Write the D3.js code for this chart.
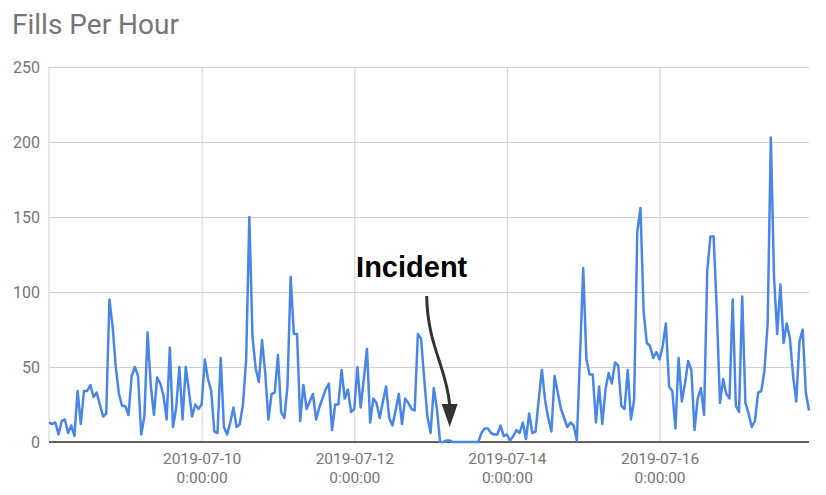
<!DOCTYPE html>
<html>
<head>
<meta charset="utf-8">
<script src="https://cdn.jsdelivr.net/npm/d3@7"></script>
<style>
  body { margin: 0; background: #fff; }
  svg text { font-family: Roboto, Arial, sans-serif; }
</style>
</head>
<body>
<div id="chart"></div>
<script>
// データ (1時間ごと, 2019-07-08 0:00 から)
const startDate = new Date(2019, 6, 8, 0, 0, 0);
const fills = [
  13, 12, 13, 5, 14, 15, 6, 11, 4, 34, 12, 34, 34, 38, 30, 33, 25, 17, 19, 95,
  77, 50, 32, 24, 24, 18, 44, 50, 44, 5, 17, 73, 38, 18, 43, 39, 31, 15, 63, 10,
  23, 50, 15, 50, 34, 17, 25, 22, 25, 55, 42, 34, 7, 6, 56, 10, 5, 13, 23, 10,
  12, 25, 55, 150, 70, 49, 40, 68, 46, 15, 32, 33, 58, 20, 16, 37, 110, 72, 72, 14,
  38, 22, 27, 32, 15, 23, 29, 35, 39, 8, 25, 25, 48, 29, 35, 20, 22, 50, 23, 42,
  62, 13, 29, 26, 16, 27, 37, 16, 11, 21, 32, 12, 29, 26, 22, 21, 72, 69, 42, 17,
  6, 36, 22, 0, 0, 1, 1, 0, 0, 0, 0, 0, 0, 0, 0, 0, 6, 9, 9, 6,
  5, 5, 11, 4, 5, 1, 4, 8, 6, 13, 2, 19, 6, 7, 28, 48, 28, 16, 7, 44,
  33, 22, 16, 10, 13, 11, 1, 58, 116, 55, 45, 45, 13, 37, 12, 35, 46, 39, 53, 51,
  24, 22, 48, 15, 28, 140, 156, 87, 66, 64, 56, 60, 55, 64, 79, 37, 34, 9, 56, 27,
  39, 54, 48, 8, 29, 36, 18, 114, 137, 137, 88, 26, 42, 32, 29, 95, 24, 20, 97, 26,
  19, 10, 14, 33, 34, 48, 79, 203, 110, 72, 105, 66, 79, 69, 44, 27, 67, 75, 33, 21
];
const yTicks = [0, 50, 100, 150, 200, 250];
const xTickDates = ["2019-07-10", "2019-07-12", "2019-07-14", "2019-07-16"];
const xTickTime = "0:00:00";
const titleText = "Fills Per Hour";
const annotation = {label: "Incident", tipHour: 126, tipValue: 10};

const hour = 3600 * 1000;
const series = fills.map((v, i) => ({date: new Date(startDate.getTime() + i * hour), value: v}));

// SVGの設定
const W = 826, H = 495;
const margin = {top: 67, right: 17, bottom: 53, left: 49};
const width = W - margin.left - margin.right;
const height = H - margin.top - margin.bottom;

const root = d3.select("#chart").append("svg")
  .attr("width", W)
  .attr("height", H);

const svg = root.append("g")
  .attr("transform", `translate(${margin.left},${margin.top})`);

// スケール
const x = d3.scaleTime()
  .domain(d3.extent(series, d => d.date))
  .range([0, width]);

const y = d3.scaleLinear()
  .domain([0, 250])
  .range([height, 0]);

// タイトル
root.append("text")
  .attr("x", 12)
  .attr("y", 34)
  .attr("fill", "#757575")
  .style("font-size", "28px")
  .text(titleText);

// 横グリッド + y軸ラベル
const yAxis = svg.append("g")
  .call(d3.axisLeft(y).tickValues(yTicks).tickSize(-width).tickPadding(9));
yAxis.select(".domain").remove();
yAxis.selectAll("line").attr("stroke", "#d0d0d0");
yAxis.selectAll("text")
  .attr("fill", "#757575")
  .style("font-size", "16px");

// 縦グリッド + x軸ラベル（2行）
const tickDates = xTickDates.map(s => d3.timeParse("%Y-%m-%d")(s));
const xAxis = svg.append("g")
  .attr("transform", `translate(0,${height})`)
  .call(d3.axisBottom(x).tickValues(tickDates).tickSize(-height).tickFormat(""));
xAxis.select(".domain").remove();
xAxis.selectAll("line").attr("stroke", "#d0d0d0");
xAxis.selectAll(".tick").each(function(d, i) {
  const t = d3.select(this);
  t.append("text")
    .attr("x", 0).attr("y", 22)
    .attr("fill", "#757575")
    .attr("text-anchor", "middle")
    .style("font-size", "15.5px")
    .text(xTickDates[i]);
  t.append("text")
    .attr("x", 0).attr("y", 40.5)
    .attr("fill", "#757575")
    .attr("text-anchor", "middle")
    .style("font-size", "15.5px")
    .text(xTickTime);
});

// 左端の線
svg.append("line")
  .attr("x1", 0).attr("x2", 0)
  .attr("y1", 0).attr("y2", height)
  .attr("stroke", "#d0d0d0");

// ベースライン
svg.append("line")
  .attr("x1", 0).attr("x2", width)
  .attr("y1", y(0)).attr("y2", y(0))
  .attr("stroke", "#333")
  .attr("stroke-width", 1.5);

// 折れ線
const line = d3.line()
  .x(d => x(d.date))
  .y(d => y(d.value));

svg.append("path")
  .datum(series)
  .attr("fill", "none")
  .attr("stroke", "#4a86e8")
  .attr("stroke-width", 2.5)
  .attr("stroke-linejoin", "round")
  .attr("d", line);

// 注釈（Incident）
const tipX = x(new Date(startDate.getTime() + annotation.tipHour * hour));
const tipY = y(annotation.tipValue);

svg.append("text")
  .attr("x", tipX - 38)
  .attr("y", tipY - 150)
  .attr("text-anchor", "middle")
  .attr("fill", "#000")
  .style("font-family", "'Liberation Sans', Arial, sans-serif")
  .style("font-weight", "bold")
  .style("font-size", "29px")
  .text(annotation.label);

const arrowPath = d3.path();
arrowPath.moveTo(tipX - 23, tipY - 131);
arrowPath.bezierCurveTo(tipX - 22, tipY - 80, tipX - 3, tipY - 60, tipX, tipY - 22);
svg.append("path")
  .attr("d", arrowPath.toString())
  .attr("fill", "none")
  .attr("stroke", "#333")
  .attr("stroke-width", 3);

svg.append("path")
  .attr("d", `M${tipX - 8},${tipY - 23} L${tipX + 8},${tipY - 23} L${tipX},${tipY} Z`)
  .attr("fill", "#333");
</script>
</body>
</html>
